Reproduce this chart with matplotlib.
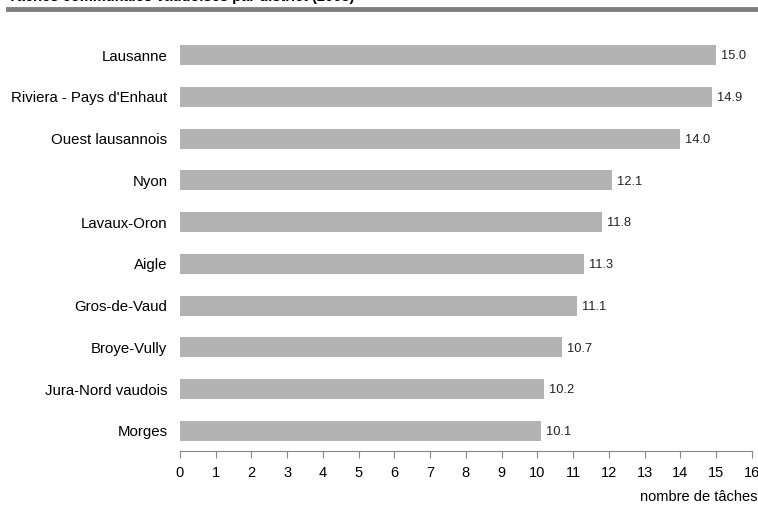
import numpy as np
import matplotlib
matplotlib.use("Agg")
import matplotlib.pyplot as plt

plt.rcParams['font.family'] = ['Liberation Sans', 'DejaVu Sans']

## Nombre moyen de tâches par district
districts = ["Lausanne", "Riviera - Pays d'Enhaut", "Ouest lausannois", "Nyon",
             "Lavaux-Oron", "Aigle", "Gros-de-Vaud", "Broye-Vully",
             "Jura-Nord vaudois", "Morges"]
taches = [15.0, 14.9, 14.0, 12.1, 11.8, 11.3, 11.1, 10.7, 10.2, 10.1]
xticks = list(range(0, 17))

fig = plt.figure(figsize=(7.58, 5.08), dpi=100)
ax = fig.add_axes([180/758, 1-451/508, (751.7-180)/758, (451-35)/508])

pos = np.arange(len(districts))[::-1]
ax.barh(pos, taches, height=0.48, color='#b3b3b3')
for p, v in zip(pos, taches):
    ax.text(v + 0.14, p - 0.03, f"{v:.1f}", va='center', ha='left', fontsize=9.3, color='#222222')

ax.set_xlim(0, 16)
ax.set_ylim(-0.48, 9.48)
ax.set_yticks(pos)
ax.set_yticklabels(districts, fontsize=10.8)
ax.set_xticks(xticks)
ax.set_xticklabels([str(t) for t in xticks], fontsize=10.5)
ax.tick_params(axis='y', length=0, pad=9)
ax.tick_params(axis='x', length=5, color='#888888', pad=6)
for s in ['top', 'right', 'left']:
    ax.spines[s].set_visible(False)
ax.spines['bottom'].set_color('#888888')

fig.text(757/758, 1-497/508, "nombre de tâches", ha='right', va='center', fontsize=10.5)

# titre coupé en haut et filet gris
fig.text(8/758, 1 + 3/508, "Tâches communales vaudoises par district (2005)", ha='left', va='center',
         fontsize=10.5, fontweight='bold')
fig.add_artist(plt.Line2D([8/758, 1.0], [1-9/508, 1-9/508], color='#808080', lw=3.5,
                          transform=fig.transFigure))

fig.savefig("out.png", dpi=100)
